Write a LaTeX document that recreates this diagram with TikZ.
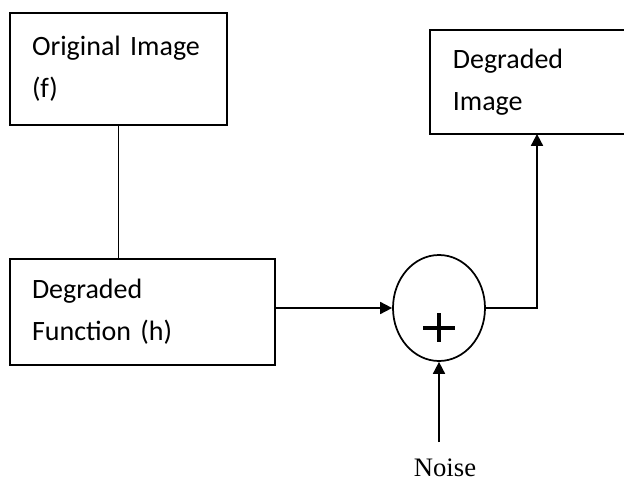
\documentclass[tikz,border=0pt]{standalone}
\usepackage{fontspec}
\setmainfont{Carlito}
\newfontfamily\noisefont{Liberation Serif}
\usetikzlibrary{arrows.meta,shapes.geometric}

\tikzset{every picture/.style={line width=1.3pt}}
\tikzset{
  blockbox/.style={draw, rectangle, inner xsep=16.5pt, inner ysep=0pt, align=left,
    font=\fontsize{21}{31.5}\selectfont},
  sumnode/.style={draw, ellipse, inner sep=0pt, minimum width=69pt, minimum height=79.5pt},
  flow/.style={-{Triangle[length=9pt,width=9pt]}}
}

\begin{document}
\begin{tikzpicture}[x=0.75pt,y=0.75pt,yscale=-1,xscale=1]
\useasboundingbox (0,0) rectangle (624,481);

%Shape: Rectangle [original image]
\node (orig) [blockbox, text width=129.75pt, minimum height=84pt] at (118.5,69) {Original Image\\(f)};
%Shape: Rectangle [degradation function]
\node (degfun) [blockbox, text width=165.75pt, minimum height=79.5pt] at (142.5,312) {Degraded\\Function (h)};
%Shape: Rectangle [degraded image, runs off the right edge]
\node (degimg) [blockbox, draw=none, text width=150pt, minimum height=76.5pt, anchor=west] at (430,82) {Degraded\\Image};
\draw (degimg.north east) -- (degimg.north west) -- (degimg.south west) -- (degimg.south east);
%Shape: Ellipse [adder]
\node (sum) [sumnode] at (439,308) {};
%plus sign
\draw [line width=3.2pt] ([shift={(-16,20)}]sum.center) -- ([shift={(16,20)}]sum.center);
\draw [line width=3.2pt] ([shift={(0,5)}]sum.center) -- ([shift={(0,34)}]sum.center);

% Text Node
\node (noise) [anchor=base, font=\noisefont\fontsize{20}{24}\selectfont] at (445,476) {Noise};
\coordinate (noisein) at (439,442);
\coordinate (bend) at (537,308);

%Straight Lines
\draw (orig.south) -- (orig.south |- degfun.north);
\draw [flow] (sum.west -| degfun.east) -- (sum.west);
\draw [flow] (sum.east) -- (bend) -- (bend |- degimg.south);
\draw [flow] (noisein) -- (sum.south);

\end{tikzpicture}
\end{document}
